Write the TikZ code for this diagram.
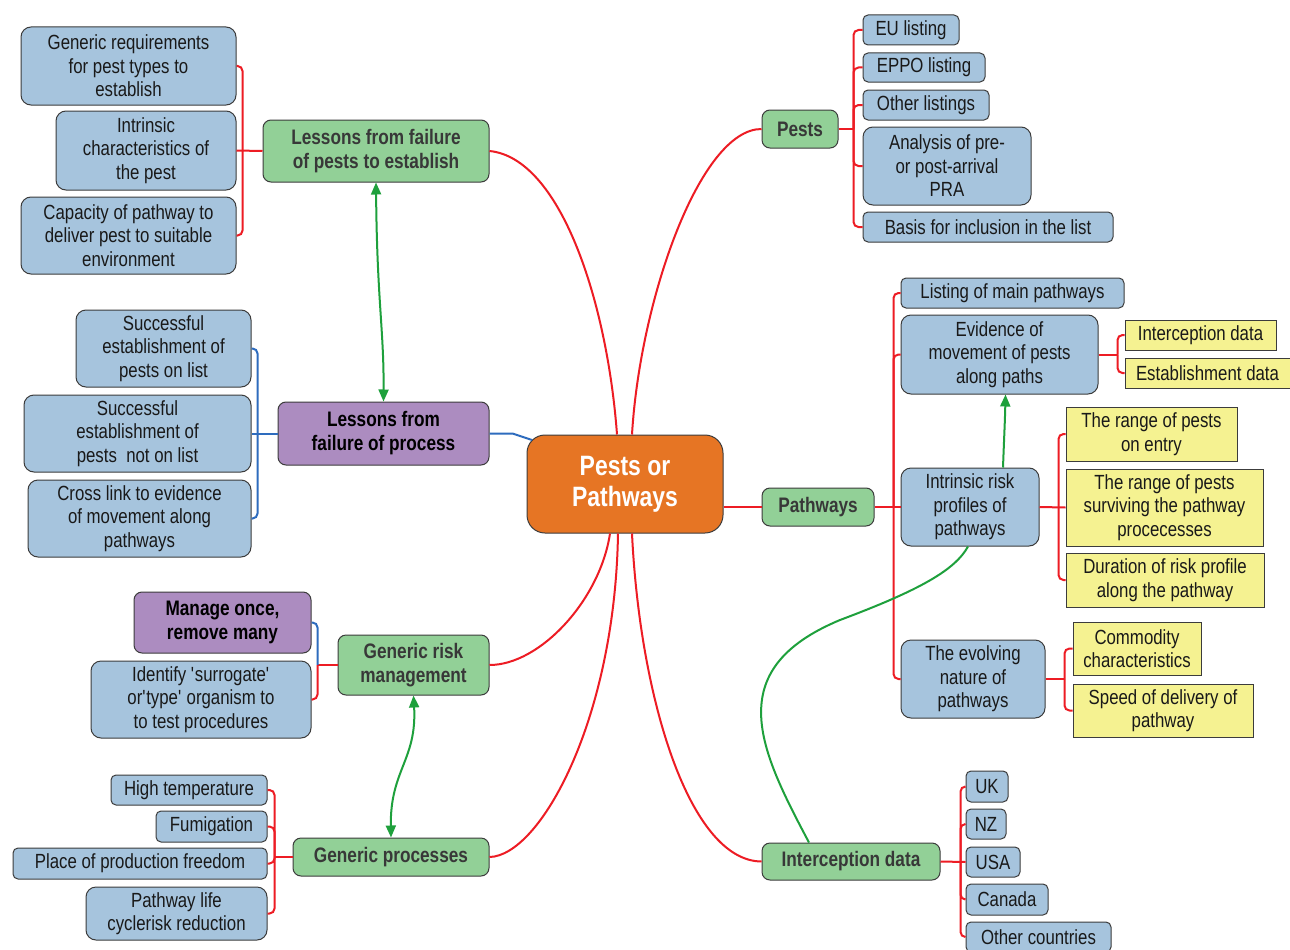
\documentclass[tikz,border=0pt]{standalone}
\usepackage{fontspec}
\setmainfont{Liberation Sans}[FakeStretch=0.82]
\usetikzlibrary{arrows.meta}
\definecolor{bxblue}{RGB}{166,196,221}
\definecolor{bxgreen}{RGB}{146,208,151}
\definecolor{bxpurple}{RGB}{172,140,192}
\definecolor{bxorange}{RGB}{230,117,36}
\definecolor{bxyellow}{RGB}{245,242,145}
\definecolor{lnred}{RGB}{237,28,36}
\definecolor{lnblue}{RGB}{46,108,190}
\definecolor{lngreen}{RGB}{30,160,60}
\definecolor{edgegray}{RGB}{60,60,60}
\begin{document}
\begin{tikzpicture}[x=1pt,y=-1pt,
 base/.style={draw=edgegray,line width=1pt,align=center,inner sep=0pt,text=black!90,font=\fontsize{20.5}{23.5}\selectfont},
 bl/.style={base,fill=bxblue,rounded corners=10pt},
 bls/.style={base,fill=bxblue,rounded corners=5pt},
 gr/.style={base,fill=bxgreen,rounded corners=8pt,font=\fontsize{21}{24}\selectfont\bfseries,text=black!78},
 pu/.style={base,fill=bxpurple,rounded corners=8pt,font=\fontsize{21}{24}\selectfont\bfseries,text=black},
 ye/.style={base,fill=bxyellow},
 ce/.style={base,fill=bxorange,rounded corners=18pt,font=\fontsize{28}{31}\selectfont\bfseries,text=white},
 rl/.style={draw=lnred,line width=2pt,rounded corners=5pt},
 bll/.style={draw=lnblue,line width=2pt,rounded corners=5pt},
 gl/.style={draw=lngreen,line width=2pt},
 gtip/.style={-{Triangle[length=12pt,width=10pt]}},
 gtips/.style={{Triangle[length=12pt,width=10pt]}-{Triangle[length=12pt,width=10pt]}}
]
\clip (0,0) rectangle (1290,950);
\fill[white] (0,0) rectangle (1290,950);

% centre
\node[ce,minimum width=196,minimum height=98] (ctr) at (625,484) {Pests or\\Pathways};

% ---------- left top
\node[gr,minimum width=226,minimum height=62] (lf) at (376,151) {Lessons from failure\\of pests to establish};
\node[bl,minimum width=215,minimum height=78] (g1) at (128.5,66) {Generic requirements\\for pest types to\\establish};
\node[bl,minimum width=180,minimum height=79] (g2) at (146,150.5) {Intrinsic\\characteristics of\\the pest};
\node[bl,minimum width=215,minimum height=77] (g3) at (128.5,235.5) {Capacity of pathway to\\deliver pest to suitable\\environment};

% ---------- left middle
\node[pu,minimum width=211,minimum height=63] (lp) at (383.5,433.5) {Lessons from\\failure of process};
\node[bl,minimum width=175,minimum height=77] (s1) at (163.5,348.5) {Successful\\establishment of\\pests on list};
\node[bl,minimum width=227,minimum height=77] (s2) at (137.5,433.5) {Successful\\establishment of\\pests\ \ not on list};
\node[bl,minimum width=223,minimum height=77] (s3) at (139.5,518.5) {Cross link to evidence\\of movement along\\pathways};

% ---------- left lower
\node[gr,minimum width=151,minimum height=60] (grm) at (413.5,665) {Generic risk\\management};
\node[pu,minimum width=177,minimum height=61] (mo) at (222.5,622.5) {Manage once,\\remove many};
\node[bl,minimum width=220,minimum height=77] (idn) at (201,699.5) {Identify \textquotesingle surrogate\textquotesingle\\or\textquotesingle type\textquotesingle\ organism to\\to test procedures};

% ---------- left bottom
\node[gr,minimum width=196,minimum height=38] (gp) at (391,857) {Generic processes};
\node[bls,minimum width=156,minimum height=30] (h1) at (189,790) {High temperature};
\node[bls,minimum width=111,minimum height=31] (h2) at (211.5,826.5) {Fumigation};
\node[bls,minimum width=254,minimum height=31] (h3) at (140,863.5) {Place of production freedom};
\node[bl,minimum width=181,minimum height=53] (h4) at (176.5,913.5) {Pathway life\\cyclerisk reduction};

% ---------- right top
\node[gr,minimum width=76,minimum height=38] (pests) at (800,129) {Pests};
\node[bls,minimum width=96,minimum height=30] (e1) at (911,30) {EU listing};
\node[bls,minimum width=122,minimum height=29] (e2) at (924,67.5) {EPPO listing};
\node[bls,minimum width=126,minimum height=30] (e3) at (926,105) {Other listings};
\node[bl,minimum width=168,minimum height=78] (e4) at (947,166) {Analysis of pre-\\or post-arrival\\PRA};
\node[bls,minimum width=250,minimum height=30] (e5) at (988,227) {Basis for inclusion in the list};

% ---------- right middle
\node[gr,minimum width=112,minimum height=38] (pw) at (818,507) {Pathways};
\node[bls,minimum width=223,minimum height=30] (l1) at (1012.5,293) {Listing of main pathways};
\node[bl,minimum width=197,minimum height=79] (l2) at (999.5,354.5) {Evidence of\\movement of pests\\along paths};
\node[bl,minimum width=138,minimum height=78] (l3) at (970,507) {Intrinsic risk\\profiles of\\pathways};
\node[bl,minimum width=144,minimum height=78] (l4) at (973,679) {The evolving\\nature of\\pathways};
\node[ye,minimum width=151,minimum height=30] (y1) at (1200.5,335) {Interception data};
\node[ye,minimum width=165,minimum height=30] (y2) at (1207.5,373) {Establishment data};
\node[ye,minimum width=171,minimum height=54] (y3) at (1151.5,434) {The range of pests\\on entry};
\node[ye,minimum width=197,minimum height=77] (y4) at (1164.5,507.5) {The range of pests\\surviving the pathway\\procecesses};
\node[ye,minimum width=198,minimum height=54] (y5) at (1165,580) {Duration of risk profile\\along the pathway};
\node[ye,minimum width=128,minimum height=53] (y6) at (1137,648.5) {Commodity\\characteristics};
\node[ye,minimum width=180,minimum height=53] (y7) at (1163,710.5) {Speed of delivery of\\pathway};

% ---------- right bottom
\node[gr,minimum width=178,minimum height=37] (idata) at (851,861.5) {Interception data};
\node[bls,minimum width=42,minimum height=31] (c1) at (987,786.5) {UK};
\node[bls,minimum width=40,minimum height=30] (c2) at (986,824) {NZ};
\node[bls,minimum width=54,minimum height=30] (c3) at (993,862) {USA};
\node[bls,minimum width=82,minimum height=31] (c4) at (1007,899.5) {Canada};
\node[bls,minimum width=145,minimum height=30] (c5) at (1038.5,937) {Other countries};

% ---------- bracket junctions
\coordinate (lfb) at ([xshift=-20]lf.west);
\coordinate (lpb) at ([xshift=-20]lp.west);
\coordinate (grmb) at ([xshift=-20]grm.west);
\coordinate (gpb) at ([xshift=-18]gp.west);
\coordinate (peb) at ([xshift=15]pests.east);
\coordinate (pwb) at ([xshift=19]pw.east);
\coordinate (l2b) at ([xshift=19]l2.east);
\coordinate (l3b) at ([xshift=19]l3.east);
\coordinate (l4b) at ([xshift=19]l4.east);
\coordinate (idb) at ([xshift=20]idata.east);

% ---------- brackets
\draw[rl] (lf.west) -- (g2.east);
\draw[rl] (lfb) |- (g1.east);
\draw[rl] (lfb) |- (g3.east);

\draw[bll] (lp.west) -- (s2.east);
\draw[bll] (lpb) |- (s1.east);
\draw[bll] (lpb) |- (s3.east);

\draw[rl] (grm.west) -- (grmb);
\draw[bll] (grmb) |- (mo.east);
\draw[rl] (grmb) |- (idn.east);

\draw[rl] (gp.west) -- (gpb);
\draw[rl] (gpb) |- (h1.east);
\draw[rl] (gpb) |- (h2.east);
\draw[rl] (gpb) |- (h3.east);
\draw[rl] (gpb) |- (h4.east);

\draw[rl] (pests.east) -- (peb);
\draw[rl] (peb) |- (e1.west);
\draw[rl] (peb) |- (e2.west);
\draw[rl] (peb) |- (e3.west);
\draw[rl] (peb) |- (e4.west);
\draw[rl] (peb) |- (e5.west);

\draw[rl] (pw.east) -- (l3.west);
\draw[rl] (pwb) |- (l1.west);
\draw[rl] (pwb) |- (l2.west);
\draw[rl] (pwb) |- (l4.west);

\draw[rl] (l2.east) -- (l2b);
\draw[rl] (l2b) |- (y1.west);
\draw[rl] (l2b) |- (y2.west);

\draw[rl] (l3.east) -- (y4.west);
\draw[rl] (l3b) |- (y3.west);
\draw[rl] (l3b) |- (y5.west);

\draw[rl] (l4.east) -- (l4b);
\draw[rl] (l4b) |- (y6.west);
\draw[rl] (l4b) |- (y7.west);

\draw[rl] (idata.east) -- (c3.west);
\draw[rl] (idb) |- (c1.west);
\draw[rl] (idb) |- (c2.west);
\draw[rl] (idb) |- (c4.west);
\draw[rl] (idb) |- (c5.west);

% ---------- centre connectors
\draw[rl] ([xshift=-8]ctr.north) .. controls (607,300) and (560,158) .. (lf.east);
\draw[rl] ([xshift=7]ctr.north) .. controls (640,300) and (700,129) .. (pests.west);
\draw[rl] (pw.west -| ctr.east) -- (pw.west);
\draw[rl] ([xshift=7]ctr.south) .. controls (640,700) and (690,861) .. (idata.west);
\draw[rl] ([xshift=-7]ctr.south) .. controls (615,720) and (540,856) .. (gp.east);
\draw[rl] ([xshift=-15]ctr.south) .. controls (600,600) and (540,665) .. (grm.east);
\draw[bll,rounded corners=0pt] (lp.east) -- ++(23,0) -- ([xshift=5.5,yshift=-5.5]ctr.north west);

% ---------- green cross links
\draw[gl,gtips] (lf.south) .. controls (377,300) and (384,330) .. (lp.north);
\draw[gl,gtips] (grm.south) .. controls (417,760) and (390,770) .. (gp.north);
\draw[gl,gtip] ([xshift=33]l3.north) .. controls (1004,440) and (1005,420) .. ([xshift=6]l2.south);
\draw[gl] ([xshift=-42]idata.north) .. controls (760,750) and (720,670) .. (840,620)
   .. controls (920,590) and (955,570) .. ([xshift=-2]l3.south);
\end{tikzpicture}
\end{document}
